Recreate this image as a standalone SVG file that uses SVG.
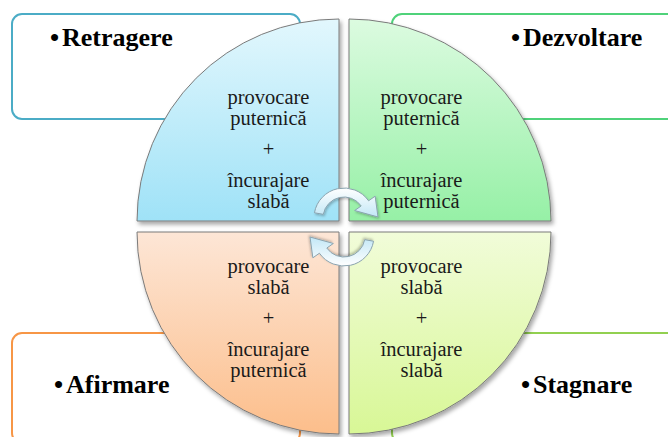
<svg xmlns="http://www.w3.org/2000/svg" width="668" height="437" viewBox="0 0 668 437">
<defs>
<style>
.box{fill:#fff;stroke-width:2}
.lbl{font-family:"Liberation Serif","Times New Roman",serif;font-weight:bold;font-size:26px;fill:#000}
.q{stroke:#7a7a7a;stroke-width:1;filter:url(#sh)}
.t{font-family:"Liberation Serif","Times New Roman",serif;font-size:20.5px;fill:#1a1a1a;text-anchor:middle}
.arr{fill:url(#gA);stroke:#8aa3af;stroke-width:1;filter:url(#sh2)}
</style>
<filter id="sh" x="-10%" y="-10%" width="125%" height="125%">
<feDropShadow dx="2" dy="3" stdDeviation="2" flood-color="#000" flood-opacity="0.35"/>
</filter>
<filter id="sh2" x="-20%" y="-20%" width="150%" height="150%">
<feDropShadow dx="1" dy="1.5" stdDeviation="1.2" flood-color="#000" flood-opacity="0.25"/>
</filter>
<linearGradient id="gTL" x1="0" y1="0" x2="0" y2="1"><stop offset="0" stop-color="#e2f7fd"/><stop offset="1" stop-color="#9fe2f7"/></linearGradient>
<linearGradient id="gTR" x1="0" y1="0" x2="0" y2="1"><stop offset="0" stop-color="#dcfbe0"/><stop offset="1" stop-color="#96f0a6"/></linearGradient>
<linearGradient id="gBL" x1="0" y1="0" x2="0" y2="1"><stop offset="0" stop-color="#fde6d6"/><stop offset="1" stop-color="#fcbe8b"/></linearGradient>
<linearGradient id="gBR" x1="0" y1="0" x2="0" y2="1"><stop offset="0" stop-color="#f1fcd9"/><stop offset="1" stop-color="#d8f796"/></linearGradient>
<linearGradient id="gA" x1="0" y1="0" x2="0" y2="1"><stop offset="0" stop-color="#ffffff"/><stop offset="1" stop-color="#c2e7f6"/></linearGradient>
<path id="cyc" d="M314.46,212.79 A30,30 0 0 1 368.57,200.79 L375.13,196.20 L378,217 L354.65,210.54 L361.20,205.95 A21,21 0 0 0 323.32,214.35 Z"/>
</defs>
<rect width="668" height="437" fill="#fff"/>
<g id="box-retragere">
<rect class="box" x="12" y="14" width="288" height="105" rx="10" stroke="#4bacc6"/>
<text class="lbl" x="50" y="46">•<tspan x="62">Retragere</tspan></text>
</g>
<g id="box-dezvoltare">
<rect class="box" x="392" y="14" width="300" height="105" rx="10" stroke="#4fd27a"/>
<text class="lbl" x="511" y="46">•<tspan x="523">Dezvoltare</tspan></text>
</g>
<g id="box-afirmare">
<rect class="box" x="12" y="333" width="288" height="110" rx="10" stroke="#f79646"/>
<text class="lbl" x="54" y="393">•<tspan x="66">Afirmare</tspan></text>
</g>
<g id="box-stagnare">
<rect class="box" x="392" y="333" width="300" height="110" rx="10" stroke="#92d050"/>
<text class="lbl" x="521" y="393">•<tspan x="533">Stagnare</tspan></text>
</g>
<g id="q-tl">
<path class="q" fill="url(#gTL)" d="M339,221 L137,221 A202,202 0 0 1 339,19 Z"/>
<text class="t" x="268.5"><tspan x="268.5" y="104">provocare</tspan><tspan x="268.5" y="125">puternică</tspan><tspan x="268.5" y="156">+</tspan><tspan x="268.5" y="187">încurajare</tspan><tspan x="268.5" y="208">slabă</tspan></text>
</g>
<g id="q-tr">
<path class="q" fill="url(#gTR)" d="M349,221 L349,19 A202,202 0 0 1 551,221 Z"/>
<text class="t" x="421.5"><tspan x="421.5" y="104">provocare</tspan><tspan x="421.5" y="125">puternică</tspan><tspan x="421.5" y="156">+</tspan><tspan x="421.5" y="187">încurajare</tspan><tspan x="421.5" y="208">puternică</tspan></text>
</g>
<g id="q-bl">
<path class="q" fill="url(#gBL)" d="M339,232 L339,434 A202,202 0 0 1 137,232 Z"/>
<text class="t" x="268.5"><tspan x="268.5" y="273">provocare</tspan><tspan x="268.5" y="294">slabă</tspan><tspan x="268.5" y="325">+</tspan><tspan x="268.5" y="356">încurajare</tspan><tspan x="268.5" y="377">puternică</tspan></text>
</g>
<g id="q-br">
<path class="q" fill="url(#gBR)" d="M349,232 L551,232 A202,202 0 0 1 349,434 Z"/>
<text class="t" x="421.5"><tspan x="421.5" y="273">provocare</tspan><tspan x="421.5" y="294">slabă</tspan><tspan x="421.5" y="325">+</tspan><tspan x="421.5" y="356">încurajare</tspan><tspan x="421.5" y="377">slabă</tspan></text>
</g>
<g id="connectors">
<use href="#cyc" class="arr"/>
<use href="#cyc" class="arr" transform="rotate(180 344 227)"/>
</g>
</svg>
